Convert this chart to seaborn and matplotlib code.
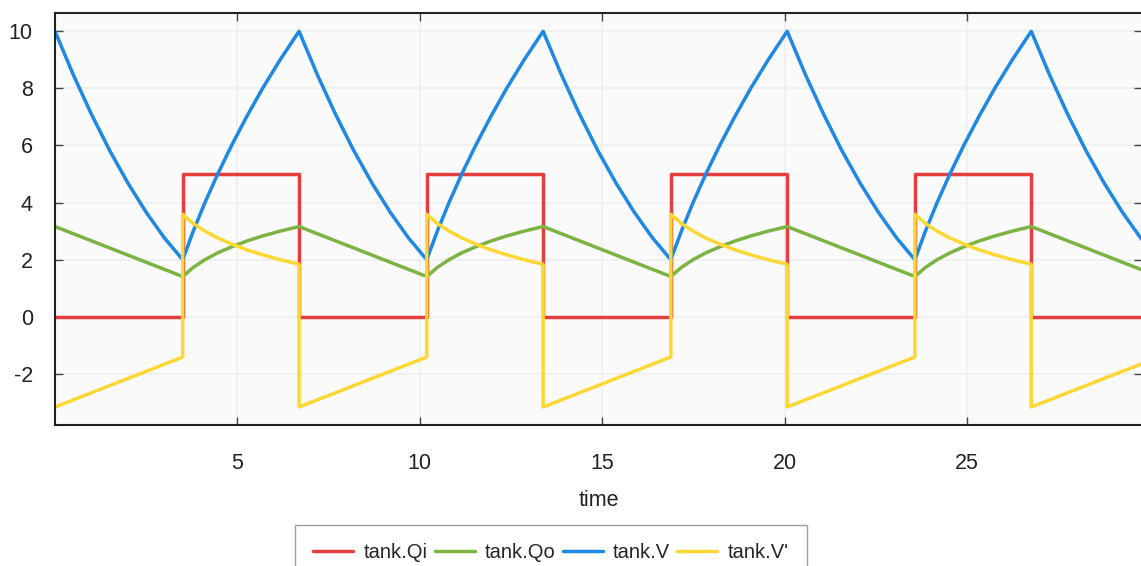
import numpy as np
import pandas as pd
import matplotlib.pyplot as plt
import seaborn as sns

# time samples (switch instants appear twice so the jumps are vertical)
time = [0.00, 0.50, 1.00, 1.50, 2.00, 2.50, 3.00, 3.50, 3.50, 3.79, 4.11, 4.46, 4.84, 5.25, 5.69, 6.17, 6.69, 6.69,
        7.19, 7.69, 8.19, 8.69, 9.19, 9.69, 10.19, 10.19, 10.48, 10.80, 11.15, 11.53, 11.94, 12.38, 12.86, 13.38, 13.38,
        13.88, 14.38, 14.88, 15.38, 15.88, 16.38, 16.88, 16.88, 17.17, 17.49, 17.84, 18.22, 18.63, 19.07, 19.55, 20.07, 20.07,
        20.57, 21.07, 21.57, 22.07, 22.57, 23.07, 23.57, 23.57, 23.86, 24.18, 24.53, 24.91, 25.32, 25.76, 26.24, 26.76, 26.76,
        27.26, 27.76, 28.26, 28.76, 29.26, 29.76, 30.00]

tank_Qi = [0, 0, 0, 0, 0, 0, 0, 0, 5, 5, 5, 5, 5, 5, 5, 5, 5, 0,
           0, 0, 0, 0, 0, 0, 0, 5, 5, 5, 5, 5, 5, 5, 5, 5, 0,
           0, 0, 0, 0, 0, 0, 0, 5, 5, 5, 5, 5, 5, 5, 5, 5, 0,
           0, 0, 0, 0, 0, 0, 0, 5, 5, 5, 5, 5, 5, 5, 5, 5, 0,
           0, 0, 0, 0, 0, 0, 0]

tank_Qo = [3.16, 2.91, 2.66, 2.41, 2.16, 1.91, 1.66, 1.41, 1.41, 1.73, 2.00, 2.24, 2.45, 2.65, 2.83, 3.00, 3.16, 3.16,
           2.91, 2.66, 2.41, 2.16, 1.91, 1.66, 1.41, 1.41, 1.73, 2.00, 2.24, 2.45, 2.65, 2.83, 3.00, 3.16, 3.16,
           2.91, 2.66, 2.41, 2.16, 1.91, 1.66, 1.41, 1.41, 1.73, 2.00, 2.24, 2.45, 2.65, 2.83, 3.00, 3.16, 3.16,
           2.91, 2.66, 2.41, 2.16, 1.91, 1.66, 1.41, 1.41, 1.73, 2.00, 2.24, 2.45, 2.65, 2.83, 3.00, 3.16, 3.16,
           2.91, 2.66, 2.41, 2.16, 1.91, 1.66, 1.54]

tank_V = [10.0, 8.48, 7.09, 5.82, 4.68, 3.66, 2.76, 2.00, 2.00, 3.0, 4.0, 5.0, 6.0, 7.0, 8.0, 9.0, 10.0, 10.0,
          8.48, 7.09, 5.82, 4.68, 3.66, 2.76, 2.00, 2.00, 3.0, 4.0, 5.0, 6.0, 7.0, 8.0, 9.0, 10.0, 10.0,
          8.48, 7.09, 5.82, 4.68, 3.66, 2.76, 2.00, 2.00, 3.0, 4.0, 5.0, 6.0, 7.0, 8.0, 9.0, 10.0, 10.0,
          8.48, 7.09, 5.82, 4.68, 3.66, 2.76, 2.00, 2.00, 3.0, 4.0, 5.0, 6.0, 7.0, 8.0, 9.0, 10.0, 10.0,
          8.48, 7.09, 5.82, 4.68, 3.66, 2.76, 2.38]

tank_Vder = [-3.16, -2.91, -2.66, -2.41, -2.16, -1.91, -1.66, -1.41, 3.59, 3.27, 3.00, 2.76, 2.55, 2.35, 2.17, 2.00, 1.84, -3.16,
             -2.91, -2.66, -2.41, -2.16, -1.91, -1.66, -1.41, 3.59, 3.27, 3.00, 2.76, 2.55, 2.35, 2.17, 2.00, 1.84, -3.16,
             -2.91, -2.66, -2.41, -2.16, -1.91, -1.66, -1.41, 3.59, 3.27, 3.00, 2.76, 2.55, 2.35, 2.17, 2.00, 1.84, -3.16,
             -2.91, -2.66, -2.41, -2.16, -1.91, -1.66, -1.41, 3.59, 3.27, 3.00, 2.76, 2.55, 2.35, 2.17, 2.00, 1.84, -3.16,
             -2.91, -2.66, -2.41, -2.16, -1.91, -1.66, -1.54]

series_names = ["tank.Qi", "tank.Qo", "tank.V", "tank.V'"]
colors = ["#e53e3e", "#7cb342", "#1e88e5", "#fdd835"]

df = pd.DataFrame({"time": time, "tank.Qi": tank_Qi, "tank.Qo": tank_Qo,
                   "tank.V": tank_V, "tank.V'": tank_Vder})
long = df.melt(id_vars="time", var_name="series", value_name="value")

sns.set_style("ticks")
plt.rcParams['font.family'] = ['Liberation Sans', 'DejaVu Sans']
plt.rcParams['axes.unicode_minus'] = False

fig = plt.figure(figsize=(11.41, 5.66), dpi=100)
ax = fig.add_axes([55 / 1141, 1 - 425 / 566, 1 - 55 / 1141 + 0.001, (425 - 13) / 566])
ax.set_facecolor("#fafafa")

sns.lineplot(data=long, x="time", y="value", hue="series", hue_order=series_names,
             palette=colors, estimator=None, sort=False, linewidth=2.5, ax=ax)

ax.set_xlim(0, 29.8)
ax.set_ylim(-3.79, 10.64)
ax.set_xticks([5, 10, 15, 20, 25])
ax.set_yticks([-2, 0, 2, 4, 6, 8, 10])
ax.grid(True, color="#eeeeee", linewidth=1.2)
ax.set_axisbelow(True)
ax.tick_params(direction="in", top=True, right=True, length=6, width=1,
               color="#444444", labelsize=15.5, labelcolor="#222222")
ax.tick_params(axis="y", pad=16)
ax.tick_params(axis="x", pad=20)
for s in ax.spines.values():
    s.set_color("#222222")
    s.set_linewidth(1.5)

ax.set_xlabel("time", fontsize=15.5, color="#222222", labelpad=12)
ax.set_ylabel("")

handles, labels = ax.get_legend_handles_labels()
ax.legend_.remove()
leg = fig.legend(handles, labels, loc="upper left", bbox_to_anchor=(295 / 1141, 1 - 525 / 566),
                 ncol=4, fontsize=14.5, frameon=True, fancybox=False, edgecolor="#888888",
                 handlelength=2.0, handletextpad=0.5, columnspacing=0.35, borderpad=0.9,
                 borderaxespad=0)
leg.get_frame().set_linewidth(1.0)

fig.savefig("out.png", dpi=100)
